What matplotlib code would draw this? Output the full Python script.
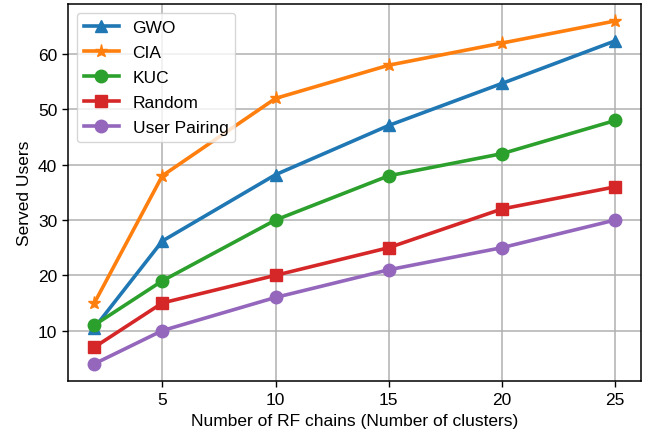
import numpy as np
import matplotlib
matplotlib.use('Agg')
import matplotlib.pyplot as plt

plt.rcParams['font.family'] = ['Liberation Sans', 'DejaVu Sans']

rf_chains = [2, 5, 10, 15, 20, 25]
gwo = [10.5, 26.2, 38.2, 47.1, 54.7, 62.4]
cia = [15, 38, 52, 58, 62, 66]
kuc = [11, 19, 30, 38, 42, 48]
rand = [7, 15, 20, 25, 32, 36]
pairing = [4, 10, 16, 21, 25, 30]

fig, ax = plt.subplots(figsize=(6.7, 4.39), dpi=100)
ax.plot(rf_chains, gwo, marker='^', markersize=9, linewidth=2.6, label='GWO')
ax.plot(rf_chains, cia, marker='*', markersize=9.5, linewidth=2.6, label='CIA')
ax.plot(rf_chains, kuc, marker='o', markersize=9, linewidth=2.6, label='KUC')
ax.plot(rf_chains, rand, marker='s', markersize=9, linewidth=2.6, label='Random')
ax.plot(rf_chains, pairing, marker='o', markersize=9, linewidth=2.6, label='User Pairing')

ax.set_xticks([5, 10, 15, 20, 25])
ax.set_yticks([10, 20, 30, 40, 50, 60])
ax.tick_params(labelsize=12.5, length=4.5, width=1.0)
ax.grid(True, color='#b0b0b0', linewidth=1.1)
for s in ax.spines.values():
    s.set_linewidth(1.1)
ax.set_xlabel('Number of RF chains (Number of clusters)', fontsize=12.5)
ax.set_ylabel('Served Users', fontsize=12.5)
ax.legend(loc='upper left', fontsize=12.5, labelspacing=0.58)

fig.subplots_adjust(left=0.102, right=0.957, top=0.989, bottom=0.13)
fig.savefig('out.png')
